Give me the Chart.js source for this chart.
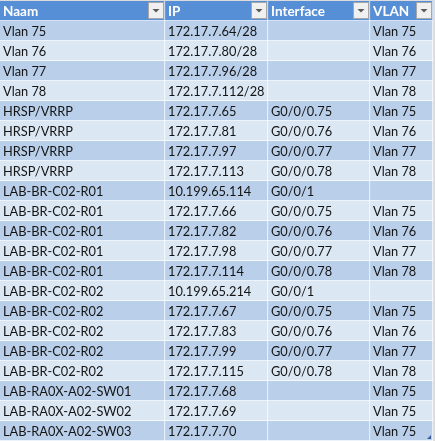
<!DOCTYPE html>
<html>
<head>
<meta charset="utf-8">
<script src="https://cdn.jsdelivr.net/npm/chart.js@4/dist/chart.umd.min.js"></script>
<style>
html,body{margin:0;padding:0;background:#dcdcdc;}
#wrap{width:435px;height:441px;position:relative;}
</style>
</head>
<body>
<div id="wrap"><canvas id="c" width="435" height="441"></canvas></div>
<script>
const headers = ["Naam", "IP", "Interface", "VLAN"];
const naam = ["Vlan 75","Vlan 76","Vlan 77","Vlan 78","HRSP/VRRP","HRSP/VRRP","HRSP/VRRP","HRSP/VRRP",
  "LAB-BR-C02-R01","LAB-BR-C02-R01","LAB-BR-C02-R01","LAB-BR-C02-R01","LAB-BR-C02-R01",
  "LAB-BR-C02-R02","LAB-BR-C02-R02","LAB-BR-C02-R02","LAB-BR-C02-R02","LAB-BR-C02-R02",
  "LAB-RA0X-A02-SW01","LAB-RA0X-A02-SW02","LAB-RA0X-A02-SW03"];
const ip = ["172.17.7.64/28","172.17.7.80/28","172.17.7.96/28","172.17.7.112/28",
  "172.17.7.65","172.17.7.81","172.17.7.97","172.17.7.113",
  "10.199.65.114","172.17.7.66","172.17.7.82","172.17.7.98","172.17.7.114",
  "10.199.65.214","172.17.7.67","172.17.7.83","172.17.7.99","172.17.7.115",
  "172.17.7.68","172.17.7.69","172.17.7.70"];
const iface = ["","","","",
  "G0/0/0.75","G0/0/0.76","G0/0/0.77","G0/0/0.78",
  "G0/0/1","G0/0/0.75","G0/0/0.76","G0/0/0.77","G0/0/0.78",
  "G0/0/1","G0/0/0.75","G0/0/0.76","G0/0/0.77","G0/0/0.78",
  "","",""];
const vlan = ["Vlan 75","Vlan 76","Vlan 77","Vlan 78",
  "Vlan 75","Vlan 76","Vlan 77","Vlan 78",
  "","Vlan 75","Vlan 76","Vlan 77","Vlan 78",
  "","Vlan 75","Vlan 76","Vlan 77","Vlan 78",
  "Vlan 75","Vlan 75","Vlan 75"];

// layout (not data): column extents on the x scale
const colEdges = [[0,165],[165,268],[268,370],[370,433]];
const columns = [naam, ip, iface, vlan];
const rowLabels = ["header"].concat(naam.map((_, i) => "r" + (i + 1)));

const HEADER_BG = "#568FD6";
const BAND_DARK = "#B9CFEA";
const BAND_LIGHT = "#DCE7F4";
const FONT = "Lato";
const FSIZE = 12.8;
const HSIZE = 13.5;

function cellColor(ctx) {
  const j = ctx.dataIndex;
  if (j === 0) return HEADER_BG;
  return (j % 2 === 1) ? BAND_DARK : BAND_LIGHT;
}

const datasets = columns.map((col, i) => ({
  label: headers[i],
  data: rowLabels.map(() => colEdges[i].slice()),
  backgroundColor: cellColor,
  borderColor: "#ffffff",
  borderWidth: {top: 0, left: 0, right: 1, bottom: 1},
  borderSkipped: false,
  grouped: false,
  barPercentage: 1,
  categoryPercentage: 1
}));

const textPlugin = {
  id: "cellText",
  afterDatasetsDraw(chart) {
    const ctx = chart.ctx;
    ctx.save();
    chart.data.datasets.forEach((ds, i) => {
      const meta = chart.getDatasetMeta(i);
      meta.data.forEach((el, j) => {
        const left = Math.min(el.x, el.base);
        const right = Math.max(el.x, el.base);
        const top = el.y - el.height / 2;
        const bottom = el.y + el.height / 2;
        let txt;
        if (j === 0) {
          txt = headers[i];
          // dropdown button
          const bw = 16, bh = 17;
          const bx = right - 1 - bw, by = top + 1;
          ctx.fillStyle = "#f0f0f0";
          ctx.fillRect(bx, by, bw, bh);
          ctx.strokeStyle = "#a6a6a6";
          ctx.lineWidth = 1;
          ctx.strokeRect(bx + 0.5, by + 0.5, bw - 1, bh - 1);
          const cx = bx + bw / 2, cy = by + bh / 2;
          ctx.fillStyle = "#5a5a5a";
          ctx.beginPath();
          ctx.moveTo(cx - 3.5, cy - 1.5);
          ctx.lineTo(cx + 3.5, cy - 1.5);
          ctx.lineTo(cx, cy + 2);
          ctx.closePath();
          ctx.fill();
          ctx.font = "bold " + HSIZE + "px " + FONT;
          ctx.fillStyle = "#ffffff";
        } else {
          txt = columns[i][j - 1];
          ctx.font = FSIZE + "px " + FONT;
          ctx.fillStyle = "#141414";
        }
        ctx.textBaseline = "alphabetic";
        ctx.textAlign = "left";
        if (txt) ctx.fillText(txt, left + 3, el.y + 5);
        // resize handle at bottom-right of the table
        if (i === chart.data.datasets.length - 1 && j === meta.data.length - 1) {
          ctx.fillStyle = "#3a5a9a";
          ctx.beginPath();
          ctx.moveTo(right - 2, bottom - 6);
          ctx.lineTo(right - 2, bottom - 2);
          ctx.lineTo(right - 6, bottom - 2);
          ctx.closePath();
          ctx.fill();
        }
      });
    });
    ctx.restore();
  }
};

new Chart(document.getElementById("c"), {
  type: "bar",
  data: { labels: rowLabels, datasets },
  options: {
    indexAxis: "y",
    responsive: false,
    animation: false,
    devicePixelRatio: 1,
    layout: { padding: { top: 1, right: 0, bottom: 0, left: 0 } },
    plugins: { legend: { display: false }, tooltip: { enabled: false } },
    scales: {
      x: { type: "linear", min: 0, max: 435, display: false },
      y: { type: "category", display: false, offset: true }
    }
  },
  plugins: [textPlugin]
});
</script>
</body>
</html>
